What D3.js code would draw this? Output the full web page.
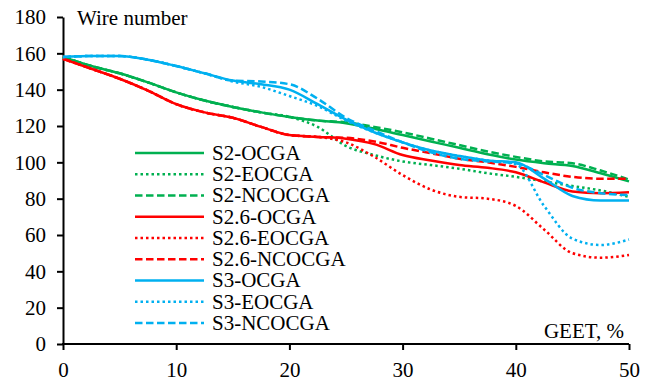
<!DOCTYPE html>
<html>
<head>
<meta charset="utf-8">
<script src="https://cdn.jsdelivr.net/npm/d3@7"></script>
<style>
	body { margin: 0; background: #fff; }
	text { font-family: 'Liberation Serif', serif !important; font-size: 21px !important; }
</style>
</head>
<body>
<svg width="656" height="380" style="font-family: 'Liberation Serif'"></svg>
<script>
// Wire number vs GEET for three spacings and three GA variants

var geet = [0, 2.5, 5, 7.5, 10, 12.5, 15, 17.5, 20, 22.5, 25, 27.5, 30, 32.5, 35, 37.5, 40, 42.5, 45, 47.5, 50];

var s2_ocga    = [158, 153, 149, 144, 138.5, 134, 130.5, 127.5, 125, 123, 121.5, 118.5, 115, 111.5, 108, 104.5, 101.5, 99.5, 98, 94, 89.5];
var s2_eocga   = [158, 153, 149, 144, 138.5, 134, 130.5, 127.5, 125, 119.5, 109, 104, 100.5, 98.5, 96.5, 94, 92, 89.5, 87, 84.5, 81];
var s2_ncocga  = [158, 153, 149, 144, 138.5, 134, 130.5, 127.5, 125, 123, 122, 119.5, 116.5, 113, 109.5, 106, 103, 100.5, 99.5, 95.5, 90.5];
var s26_ocga   = [157, 151.5, 146, 139.5, 132, 127.5, 124.5, 119.5, 115, 114, 113, 110, 104, 101, 98.5, 97, 94.5, 89, 84, 83, 83.5];
var s26_eocga  = [157, 151.5, 146, 139.5, 132, 127.5, 124.5, 119.5, 115, 114, 111, 103, 93, 85, 81, 80, 76, 63, 50, 47.5, 49];
var s26_ncocga = [157, 151.5, 146, 139.5, 132, 127.5, 124.5, 119.5, 115, 114, 113.5, 111.5, 108, 105, 102, 100, 97.5, 94.5, 92, 91, 91];
var s3_ocga    = [158, 158.5, 158.5, 156.5, 153, 149, 145, 143, 140, 132, 123.5, 116.5, 111, 106.5, 103.5, 101, 100, 91, 81.5, 79, 79];
var s3_eocga   = [158, 158.5, 158.5, 156.5, 153, 149, 144.5, 141.5, 136.5, 131, 123, 116.5, 111, 106.5, 103.5, 101, 99, 76, 58, 54.5, 57.5];
var s3_ncocga  = [158, 158.5, 158.5, 156.5, 153, 149, 145, 144.5, 143, 135, 124.5, 117.5, 111, 105.5, 102, 100.5, 99.5, 93, 86, 83, 82];

var seriesNames = ["S2-OCGA", "S2-EOCGA", "S2-NCOCGA", "S2.6-OCGA", "S2.6-EOCGA", "S2.6-NCOCGA", "S3-OCGA", "S3-EOCGA", "S3-NCOCGA"];
var seriesValues = [s2_ocga, s2_eocga, s2_ncocga, s26_ocga, s26_eocga, s26_ncocga, s3_ocga, s3_eocga, s3_ncocga];
var seriesColors = ["#00B050", "#00B050", "#00B050", "#FF0000", "#FF0000", "#FF0000", "#00B0F0", "#00B0F0", "#00B0F0"];
var seriesStyles = ["solid", "dot", "dash", "solid", "dot", "dash", "solid", "dot", "dash"];

var xTicks = [0, 10, 20, 30, 40, 50];
var yTicks = [0, 20, 40, 60, 80, 100, 120, 140, 160, 180];

var dashes = { solid: null, dot: "2.5,3", dash: "7.5,3.5" };

function draw(){
	var svg = d3.select("svg");

	var x = d3.scaleLinear().domain([0, 50]).range([63, 629]);
	var y = d3.scaleLinear().domain([0, 180]).range([344, 17]);

	// axes
	var xAxis = svg.append("g")
		.attr("transform", "translate(0,344)")
		.call(d3.axisBottom(x).tickValues(xTicks).tickSize(6).tickSizeOuter(0).tickPadding(12));
	var yAxis = svg.append("g")
		.attr("transform", "translate(63,0)")
		.call(d3.axisLeft(y).tickValues(yTicks).tickSize(6).tickSizeOuter(0).tickPadding(11));

	[xAxis, yAxis].forEach(a => {
		a.attr("font-family", null).attr("font-size", null);
		a.select(".domain").attr("stroke", "#000").attr("stroke-width", 2);
		a.selectAll(".tick line").attr("stroke", "#000").attr("stroke-width", 2);
		a.selectAll("text").attr("fill", "#000");
	});
	xAxis.select(".domain").attr("d", "M" + (x(0) - 1) + ",0H" + x(50));

	var line = d3.line()
		.x((d, i) => x(geet[i]))
		.y(d => y(d))
		.curve(d3.curveMonotoneX);

	var lines = svg.append("g");
	seriesValues.forEach((vals, k) => {
		lines.append("path")
			.attr("d", line(vals))
			.attr("fill", "none")
			.attr("stroke", seriesColors[k])
			.attr("stroke-width", 2.5)
			.attr("stroke-dasharray", dashes[seriesStyles[k]]);
	});

	// legend
	var legend = svg.append("g");
	seriesNames.forEach((name, k) => {
		var ly = 153 + k * 21.25;
		legend.append("line")
			.attr("x1", 135).attr("x2", 204)
			.attr("y1", ly).attr("y2", ly)
			.attr("stroke", seriesColors[k])
			.attr("stroke-width", 2.5)
			.attr("stroke-dasharray", dashes[seriesStyles[k]]);
		legend.append("text")
			.attr("x", 212).attr("y", ly)
			.attr("dy", "0.33em")
			.text(name);
	});

	// axis titles
	svg.append("text").attr("x", 77).attr("y", 25).text("Wire number");
	svg.append("text").attr("x", 624).attr("y", 338).attr("text-anchor", "end").text("GEET, %");
}

draw();
</script>
</body>
</html>
